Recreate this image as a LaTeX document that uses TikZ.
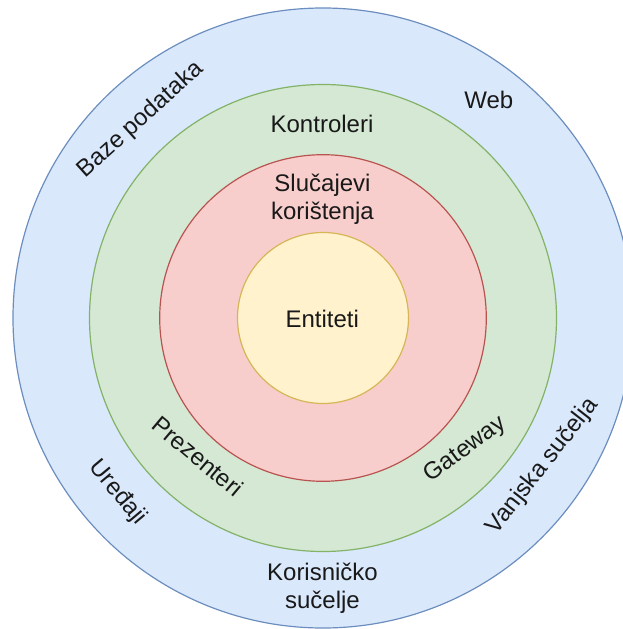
\documentclass[tikz,border=0pt]{standalone}
\usepackage{fontspec}
\setmainfont{Liberation Sans}
\definecolor{bluefill}{HTML}{DAE8FC}
\definecolor{bluedraw}{HTML}{6C8EBF}
\definecolor{greenfill}{HTML}{D5E8D4}
\definecolor{greendraw}{HTML}{82B366}
\definecolor{redfill}{HTML}{F8CECC}
\definecolor{reddraw}{HTML}{B85450}
\definecolor{yellowfill}{HTML}{FFF2CC}
\definecolor{yellowdraw}{HTML}{D6B656}
\tikzset{
  ring/.style={circle, inner sep=0pt, line width=1.2pt},
  lbl/.style={font=\fontsize{24}{28}\selectfont, inner sep=0pt, text=black!90},
  rlbl/.style={lbl, text height=0.75em, text depth=0.21em},
}
\begin{document}
\begin{tikzpicture}[x=1pt,y=-1pt]
\useasboundingbox (0,0) rectangle (623,629);
\node[ring, draw=bluedraw, fill=bluefill, minimum size=620pt] (outer) at (323,318) {};
\node[ring, draw=greendraw, fill=greenfill, minimum size=467pt] (green) at (323,318) {};
\node[ring, draw=reddraw, fill=redfill, minimum size=326.6pt] (red) at (323,318) {};
\node[ring, draw=yellowdraw, fill=yellowfill, minimum size=171pt] (yellow) at (323,318) {};

\node[lbl, anchor=base] (entiteti) at (322.2,327.3) {Entiteti};
\node[lbl, align=center] (slucajevi) at (322.5,199.3) {Slučajevi\\korištenja};
\node[lbl, anchor=base] (kontroleri) at (322,132.3) {Kontroleri};
\node[lbl, anchor=base] (web) at (488.8,108.3) {Web};
\node[lbl, align=center] (korisnicko) at (322.5,588.5) {Korisničko\\sučelje};

\node[rlbl, rotate=42] (baze) at (143,122.5) {Baze podataka};
\node[rlbl, rotate=52] (vanjska) at (545.5,468.5) {Vanjska sučelja};
\node[rlbl, rotate=36] (gateway) at (467.5,452.5) {Gateway};
\node[rlbl, rotate=-40] (prezenteri) at (194.2,460.8) {Prezenteri};
\node[rlbl, rotate=-50] (uredjaji) at (115,495) {Uređaji};
\end{tikzpicture}
\end{document}
